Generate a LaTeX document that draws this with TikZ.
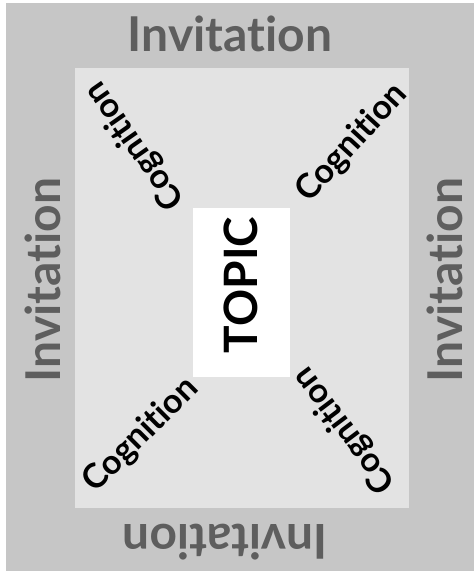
\documentclass[tikz,border=0pt]{standalone}
\usepackage{fontspec}
\setmainfont{Lato}[Ligatures={NoCommon,NoRare,NoDiscretionary}]
\definecolor{outergray}{HTML}{C6C6C6}
\definecolor{innergray}{HTML}{E3E3E3}
\definecolor{invgray}{HTML}{5E5E5E}
\begin{document}
\begin{tikzpicture}[x=1pt,y=1pt,
  invit/.style={inner sep=0pt, text=invgray, font=\fontsize{48}{48}\selectfont\bfseries, anchor=base},
  cogn/.style={inner sep=0pt, text=black, font=\fontsize{34}{34}\selectfont\bfseries, anchor=center},
  topicstyle/.style={inner sep=0pt, text=black, font=\fontsize{46}{46}\selectfont\bfseries, anchor=base}]
\useasboundingbox (0,0) rectangle (474,576);
\fill[white] (0,0) rectangle (474,576);
\fill[outergray] (6,5) rectangle (474,573);
\fill[innergray] (75,68) rectangle (409,508);
\fill[white] (193,199) rectangle (290,368);
\node[invit] (invtop) at (230,524) {Invitation};
\node[invit, rotate=180] (invbot) at (225,51) {Invitation};
\node[invit, rotate=90] (invleft) at (60,296) {Invitation};
\node[invit, rotate=90] (invright) at (462,296) {Invitation};
\node[topicstyle, rotate=90] (topic) at (257,291) {TOPIC};
\node[cogn, rotate=125] (cogtl) at (135,430) {Cognition};
\node[cogn, rotate=47.5] (cogtr) at (352,433) {Cognition};
\node[cogn, rotate=45] (cogbl) at (141,141) {Cognition};
\node[cogn, rotate=127] (cogbr) at (345,146) {Cognition};
\end{tikzpicture}
\end{document}
